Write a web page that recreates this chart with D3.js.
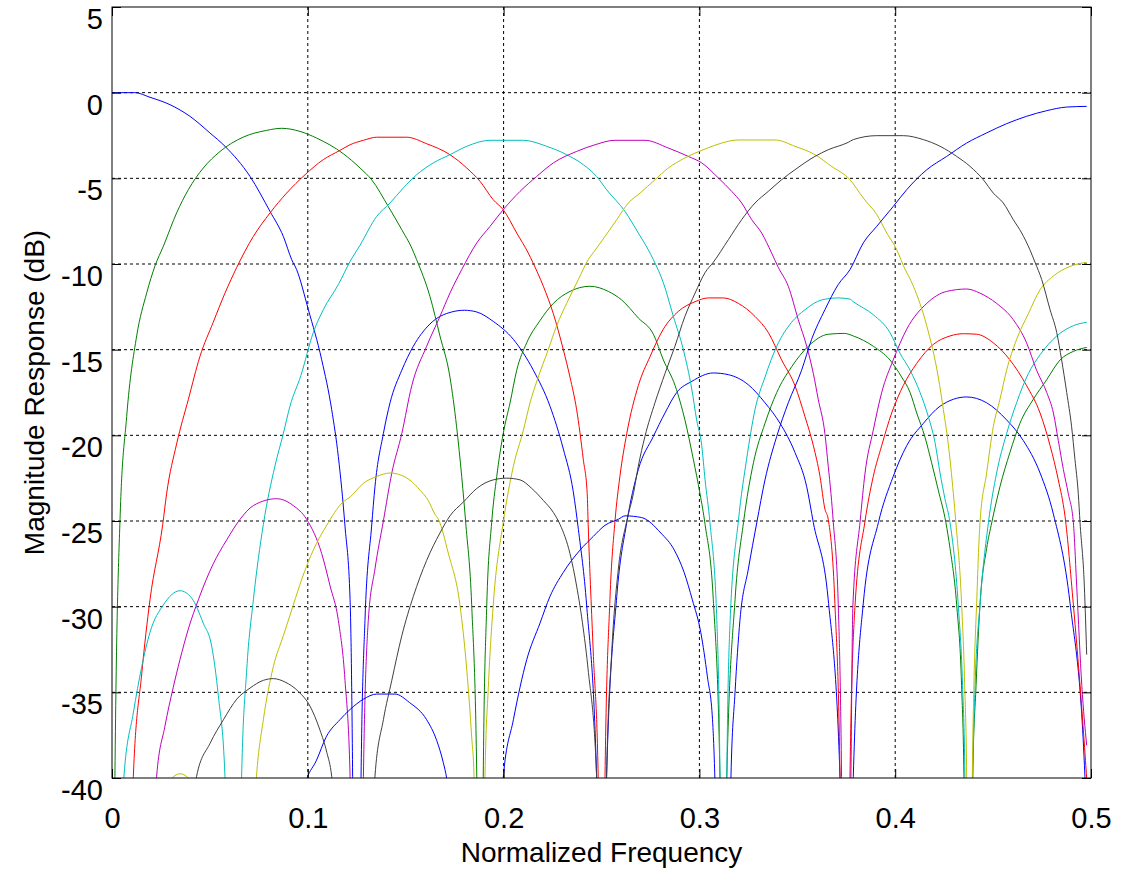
<!DOCTYPE html>
<html>
<head>
<meta charset="utf-8">
<script src="https://cdn.jsdelivr.net/npm/d3@7"></script>
<style>
body { margin: 0; background: #fff; }
svg { display: block; font-family: "Liberation Sans", Arial, Helvetica, sans-serif; }
.tickLabel { font-size: 29px; fill: #000; }
.axisTitle { font-size: 28px; fill: #000; }
</style>
</head>
<body>
<div id="chart"></div>
<script>
// [normalized frequency, magnitude dB], one array per filter
// values like -80 mark the nulls that fall off the bottom of the axes
var band0 = [[0, 0], [0.0117, 0], [0.0194, -0.27], [0.0296, -0.7], [0.0398, -1.38], [0.05, -2.35], [0.0577, -3.13], [0.0705, -4.89], [0.0807, -6.93], [0.0875, -8.39], [0.0918, -9.75], [0.0943, -10.33], [0.1003, -12.67], [0.1071, -15.59], [0.1122, -18.5], [0.1156, -21.25], [0.119, -25.3], [0.1216, -29.6], [0.1229, -39.9], [0.125, -80],
    [0.1272, -39.9], [0.1292, -30.8], [0.1326, -25.3], [0.1343, -23.0], [0.1386, -19.9], [0.142, -18.1], [0.148, -16.2], [0.1539, -14.8], [0.1624, -13.5], [0.1735, -12.8], [0.18, -12.7], [0.1863, -12.8], [0.1947, -13.35], [0.205, -14.4], [0.2152, -16.2], [0.2237, -18.3], [0.2305, -20.8], [0.2356, -23.3], [0.2382, -25.5], [0.2424, -29.9], [0.2475, -39.9], [0.25, -80],
    [0.2526, -39.9], [0.2578, -29.4], [0.2629, -25.1], [0.2688, -22.0], [0.2765, -20.06], [0.2824, -18.7], [0.2884, -17.5], [0.2961, -16.85], [0.3071, -16.36], [0.3148, -16.46], [0.325, -17.05], [0.3335, -18.1], [0.3412, -19.3], [0.3488, -21.0], [0.3548, -23.0], [0.3582, -25.1], [0.3658, -29.6], [0.3718, -39.9], [0.375, -80],
    [0.3786, -39.9], [0.3837, -29.8], [0.3914, -25.1], [0.399, -22.4], [0.4059, -20.6], [0.4144, -19.3], [0.4229, -18.3], [0.4365, -17.76], [0.4467, -18.1], [0.4569, -19.1], [0.4654, -20.3], [0.474, -22.2], [0.4808, -24.6], [0.4893, -29.8], [0.4969, -39.9], [0.498, -45]];

var band1 = [[0.0005, -60], [0.0015, -39.9], [0.0041, -24.9], [0.0075, -18.9], [0.0126, -14.2], [0.0177, -11.7], [0.022, -10.1], [0.0262, -8.97], [0.033, -7.02], [0.039, -5.66], [0.0466, -4.4], [0.0552, -3.43], [0.0671, -2.59], [0.079, -2.2], [0.0867, -2.08], [0.096, -2.26], [0.1045, -2.65], [0.1181, -3.56], [0.1267, -4.4], [0.1326, -5.08], [0.1411, -6.64], [0.148, -8.0], [0.1531, -9.07], [0.1556, -9.75], [0.1624, -11.9], [0.1675, -14.2], [0.1726, -16.6], [0.176, -19.5], [0.1786, -22.4], [0.1808, -25.3], [0.1837, -29.9], [0.1863, -39.9], [0.1875, -80],
    [0.1896, -39.9], [0.1914, -29.9], [0.1939, -25.1], [0.1965, -22.4], [0.1998, -19.9], [0.2033, -18.1], [0.2067, -16.2], [0.2118, -14.6], [0.2186, -13.3], [0.2254, -12.3], [0.2339, -11.6], [0.2441, -11.3], [0.2535, -11.6], [0.2603, -12.1], [0.2688, -13.15], [0.2765, -14.1], [0.2816, -15.6], [0.2876, -17.1], [0.2926, -19.1], [0.2969, -21.4], [0.3003, -23.4], [0.3029, -25.2], [0.3071, -29.6], [0.3105, -39.9], [0.3125, -80],
    [0.314, -39.9], [0.3182, -29.6], [0.3225, -25.1], [0.3276, -21.6], [0.3335, -19.3], [0.3395, -17.5], [0.3471, -16.0], [0.3556, -14.8], [0.3658, -14.1], [0.374, -14.05], [0.3786, -14.2], [0.3888, -14.8], [0.3973, -15.6], [0.4033, -16.6], [0.4076, -17.5], [0.411, -18.7], [0.4152, -20.1], [0.4186, -21.6], [0.422, -23.2], [0.4259, -25.1], [0.428, -26.6], [0.4314, -29.9], [0.4339, -34.6], [0.4351, -39.9], [0.4375, -80],
    [0.4396, -39.9], [0.4413, -34.6], [0.4433, -29.9], [0.4467, -26.6], [0.4493, -25.1], [0.4535, -23.0], [0.4586, -21.0], [0.4637, -19.3], [0.4705, -17.9], [0.4774, -16.75], [0.4842, -15.6], [0.491, -15.1], [0.4978, -14.87]];

var band2 = [[0.008, -60], [0.0109, -39.9], [0.0152, -33.9], [0.0194, -29.6], [0.0259, -25.2], [0.0279, -23.4], [0.033, -20.5], [0.039, -17.9], [0.0449, -15.4], [0.0517, -13.4], [0.0577, -11.7], [0.0637, -10.2], [0.0722, -8.39], [0.0807, -7.02], [0.0892, -5.86], [0.0986, -4.79], [0.1079, -3.91], [0.1164, -3.37], [0.1216, -3.04], [0.1284, -2.78], [0.1352, -2.6], [0.1505, -2.6], [0.1607, -2.98], [0.1726, -3.62], [0.1812, -4.4], [0.188, -5.18], [0.1947, -6.25], [0.1998, -6.83], [0.2067, -8.19], [0.2126, -9.36], [0.2149, -9.9], [0.2203, -11.3], [0.2254, -12.9], [0.2305, -15.0], [0.2339, -16.6], [0.2373, -18.5], [0.2407, -21.4], [0.2427, -23.4], [0.2432, -25.2], [0.2458, -32.7], [0.2483, -39.9], [0.25, -80],
    [0.2518, -39.9], [0.2543, -29.6], [0.2569, -25.0], [0.2594, -22.4], [0.2629, -19.9], [0.2688, -17.1], [0.2748, -15.4], [0.2816, -13.8], [0.2892, -12.77], [0.2978, -12.2], [0.3046, -11.98], [0.3122, -11.98], [0.3199, -12.3], [0.3284, -13.06], [0.3352, -14.0], [0.342, -15.6], [0.3488, -17.1], [0.3539, -18.9], [0.3582, -20.6], [0.3616, -22.4], [0.3641, -24.3], [0.3658, -24.9], [0.3692, -29.8], [0.3718, -39.9], [0.375, -80],
    [0.3769, -39.9], [0.3795, -29.9], [0.3846, -25.0], [0.3888, -22.4], [0.3931, -20.6], [0.3982, -18.7], [0.4041, -17.1], [0.411, -15.8], [0.4194, -14.7], [0.428, -14.2], [0.4348, -14.07], [0.4416, -14.1], [0.4501, -14.6], [0.4586, -15.6], [0.4671, -17.1], [0.474, -18.7], [0.4791, -20.6], [0.4833, -22.6], [0.4867, -24.7], [0.491, -29.9], [0.4944, -34.6], [0.4981, -40.5]];

var band3 = [[0.003, -60], [0.0061, -39.9], [0.0109, -36.2], [0.0152, -33.5], [0.0194, -31.5], [0.0262, -29.9], [0.0347, -29.07], [0.0407, -29.5], [0.0466, -30.96], [0.0509, -32.3], [0.0543, -35.2], [0.0577, -39.9], [0.0625, -80],
    [0.0662, -39.9], [0.0688, -33.7], [0.0722, -29.6], [0.0773, -25.2], [0.0832, -21.8], [0.0875, -19.9], [0.0909, -18.3], [0.0965, -16.5], [0.1028, -14.0], [0.1079, -12.67], [0.1156, -11.2], [0.1216, -9.85], [0.1267, -8.9], [0.1352, -7.22], [0.142, -6.44], [0.1488, -5.56], [0.1556, -4.79], [0.1641, -4.1], [0.1726, -3.62], [0.1812, -3.13], [0.1931, -2.78], [0.2101, -2.78], [0.222, -3.13], [0.2322, -3.62], [0.2407, -4.2], [0.2475, -4.89], [0.2526, -5.66], [0.262, -6.93], [0.2688, -8.19], [0.2739, -9.17], [0.2765, -9.75], [0.2816, -11.1], [0.2867, -13.06], [0.2918, -15.0], [0.2961, -17.3], [0.2986, -19.1], [0.3012, -20.6], [0.3029, -22.6], [0.3054, -25.1], [0.3089, -30.8], [0.3105, -39.9], [0.3125, -80],
    [0.314, -39.9], [0.3157, -30.8], [0.3199, -25.0], [0.3241, -21.4], [0.3284, -18.5], [0.3335, -16.6], [0.3395, -14.8], [0.3471, -13.4], [0.3539, -12.67], [0.3624, -12.1], [0.3709, -11.98], [0.3769, -12.05], [0.3786, -12.2], [0.3888, -12.96], [0.3973, -14.0], [0.4024, -15.2], [0.4076, -16.2], [0.4127, -17.5], [0.4169, -18.9], [0.4203, -20.4], [0.4229, -22.2], [0.4254, -23.7], [0.428, -25.1], [0.4322, -29.9], [0.4344, -34.6], [0.4356, -39.9], [0.4375, -80],
    [0.4396, -39.9], [0.4408, -34.6], [0.4433, -29.9], [0.4476, -25.1], [0.4518, -22.2], [0.4569, -19.9], [0.462, -18.1], [0.468, -16.4], [0.474, -15.3], [0.4825, -14.2], [0.491, -13.6], [0.4978, -13.4]];

var band4 = [[0.018, -60], [0.0228, -39.9], [0.027, -37.0], [0.0313, -34.7], [0.0347, -33.1], [0.039, -31.3], [0.0441, -29.6], [0.0517, -27.5], [0.0586, -26.1], [0.0654, -24.9], [0.0722, -24.1], [0.0841, -23.7], [0.0926, -24.1], [0.0994, -24.9], [0.1071, -26.9], [0.1114, -28.8], [0.1156, -30.8], [0.119, -34.3], [0.1216, -39.9], [0.125, -80],
    [0.1284, -39.9], [0.1309, -30.8], [0.1343, -27.8], [0.1386, -25.0], [0.1429, -22.2], [0.148, -19.9], [0.1531, -17.1], [0.1607, -14.8], [0.1675, -13.06], [0.1726, -11.7], [0.1786, -10.33], [0.1863, -8.77], [0.1931, -7.8], [0.1998, -6.83], [0.2084, -5.76], [0.2169, -4.89], [0.2254, -4.1], [0.2373, -3.43], [0.2467, -3.04], [0.2569, -2.78], [0.2722, -2.78], [0.2841, -3.23], [0.2943, -3.72], [0.3012, -4.1], [0.3097, -4.98], [0.3165, -5.76], [0.3216, -6.44], [0.3267, -7.41], [0.3318, -8.19], [0.3369, -9.36], [0.3403, -10.2], [0.3454, -11.3], [0.3505, -13.25], [0.3548, -14.8], [0.3582, -16.4], [0.3607, -17.9], [0.3641, -19.9], [0.3658, -21.8], [0.3672, -23.4], [0.3684, -25.1], [0.3709, -29.8], [0.3726, -39.9], [0.375, -80],
    [0.3774, -39.9], [0.3784, -29.9], [0.3821, -25.0], [0.3846, -22.2], [0.3888, -19.7], [0.3931, -17.5], [0.399, -15.6], [0.4059, -13.8], [0.4161, -12.3], [0.4263, -11.6], [0.4365, -11.46], [0.4433, -11.7], [0.4518, -12.3], [0.4603, -13.25], [0.4671, -14.6], [0.4722, -16.2], [0.4774, -17.5], [0.4808, -18.7], [0.4833, -20.3], [0.4859, -22.0], [0.4884, -23.4], [0.491, -25.1], [0.4927, -28.8], [0.4953, -34.6], [0.4978, -38.1]];

var band5 = [[0.003, -80], [0.015, -43], [0.0296, -40.1], [0.0347, -39.75], [0.0398, -40.1], [0.05, -43], [0.0625, -80],
    [0.0738, -39.9], [0.0773, -36.6], [0.0824, -33.5], [0.0875, -31.7], [0.0926, -29.9], [0.0969, -28.4], [0.1028, -26.7], [0.1094, -25.3], [0.1179, -23.9], [0.1216, -23.6], [0.1284, -22.8], [0.1352, -22.4], [0.142, -22.2], [0.1471, -22.3], [0.1531, -22.7], [0.1573, -23.2], [0.1615, -23.8], [0.1649, -24.6], [0.1667, -24.9], [0.1718, -26.9], [0.1777, -29.9], [0.1812, -33.7], [0.1837, -37.6], [0.1849, -39.9], [0.1875, -80],
    [0.1905, -39.9], [0.1922, -34.7], [0.1947, -29.9], [0.1998, -25.1], [0.205, -21.8], [0.2101, -19.7], [0.2135, -18.1], [0.2177, -16.6], [0.2228, -15.0], [0.2271, -13.6], [0.2322, -12.3], [0.2382, -10.9], [0.2432, -9.75], [0.2467, -9.2], [0.2518, -8.39], [0.2578, -7.41], [0.2637, -6.44], [0.2697, -5.86], [0.2773, -5.08], [0.2841, -4.4], [0.2926, -3.81], [0.3029, -3.29], [0.3114, -2.94], [0.3199, -2.76], [0.3386, -2.76], [0.3488, -3.13], [0.359, -3.62], [0.3675, -4.3], [0.3769, -5.08], [0.3837, -6.15], [0.3906, -7.12], [0.3957, -8.19], [0.4008, -9.17], [0.4042, -10.1], [0.4093, -11.3], [0.4161, -13.6], [0.422, -16.6], [0.4246, -18.5], [0.4271, -20.5], [0.4297, -23.4], [0.431, -25.1], [0.4339, -29.8], [0.4356, -35.0], [0.4365, -39.9], [0.4375, -80],
    [0.4394, -39.9], [0.4402, -34.6], [0.4416, -29.8], [0.4433, -25.1], [0.4467, -22.2], [0.4501, -19.5], [0.4535, -17.9], [0.4569, -16.2], [0.462, -14.4], [0.468, -12.9], [0.474, -11.5], [0.4808, -10.7], [0.4893, -10.14], [0.4978, -9.9]];

var band6 = [[0.035, -60], [0.0432, -39.9], [0.0501, -37.97], [0.0569, -36.6], [0.0637, -35.4], [0.0705, -34.75], [0.0773, -34.3], [0.0824, -34.2], [0.0884, -34.4], [0.0952, -34.95], [0.1011, -35.8], [0.1062, -37.2], [0.1097, -38.5], [0.1122, -39.9], [0.125, -80],
    [0.1343, -39.9], [0.1386, -36.6], [0.1429, -34.3], [0.148, -31.7], [0.1539, -29.4], [0.1607, -27.3], [0.1675, -25.7], [0.1726, -24.7], [0.1794, -23.9], [0.1863, -23.1], [0.1947, -22.6], [0.2016, -22.5], [0.2084, -22.6], [0.2144, -23.1], [0.2203, -23.8], [0.2254, -24.5], [0.2288, -25.2], [0.2339, -26.9], [0.2373, -28.8], [0.2407, -31.3], [0.2432, -33.7], [0.2475, -39.9], [0.25, -80],
    [0.2526, -39.9], [0.2552, -32.7], [0.2586, -27.8], [0.2629, -25.0], [0.2663, -23.4], [0.2688, -21.8], [0.2722, -20.06], [0.2773, -18.1], [0.2824, -16.4], [0.2875, -14.8], [0.2926, -13.06], [0.2978, -11.7], [0.3029, -10.5], [0.3071, -9.9], [0.3148, -8.58], [0.3216, -7.41], [0.3284, -6.44], [0.3352, -5.76], [0.342, -5.08], [0.3488, -4.5], [0.359, -3.72], [0.3658, -3.33], [0.376, -2.9], [0.3786, -2.74], [0.3906, -2.51], [0.4042, -2.51], [0.4144, -2.74], [0.4229, -3.13], [0.4314, -3.72], [0.4382, -4.3], [0.445, -5.08], [0.4501, -5.86], [0.4552, -6.44], [0.4603, -7.41], [0.4646, -8.19], [0.4688, -9.17], [0.4714, -9.9], [0.4748, -10.9], [0.4791, -12.67], [0.4825, -14.0], [0.485, -15.6], [0.4876, -17.5], [0.4901, -19.5], [0.4918, -21.4], [0.4935, -23.4], [0.4944, -25.1], [0.4966, -28.8], [0.4978, -32.8]];

var band7 = [[0.0625, -80], [0.0996, -40], [0.1043, -39.0], [0.1094, -37.6], [0.1164, -36.6], [0.1216, -36.0], [0.1284, -35.4], [0.1352, -35.1], [0.1445, -35.1], [0.152, -35.6], [0.1607, -36.6], [0.1658, -37.8], [0.1692, -39.1], [0.1709, -40], [0.1875, -80],
    [0.1998, -40], [0.205, -36.6], [0.2118, -33.1], [0.2186, -30.96], [0.2237, -29.4], [0.2305, -28.0], [0.239, -26.7], [0.2458, -25.9], [0.2518, -25.25], [0.2586, -24.9], [0.262, -24.7], [0.2705, -24.8], [0.2803, -25.7], [0.2872, -26.7], [0.2922, -28.0], [0.2964, -29.6], [0.3007, -31.5], [0.3041, -34.1], [0.3067, -36.6], [0.3079, -40], [0.3125, -80],
    [0.3161, -40], [0.3182, -35.0], [0.3207, -30.8], [0.325, -27.8], [0.3293, -25.1], [0.3335, -22.6], [0.3395, -20.06], [0.3454, -18.1], [0.3522, -16.2], [0.3573, -14.4], [0.3641, -12.67], [0.3709, -11.2], [0.3769, -10.33], [0.3837, -8.77], [0.3906, -7.8], [0.399, -6.64], [0.4059, -5.66], [0.4161, -4.5], [0.4263, -3.72], [0.4365, -2.94], [0.4467, -2.35], [0.4569, -1.81], [0.4671, -1.38], [0.4774, -1.05], [0.4876, -0.84], [0.4978, -0.8]];

var bands = [band0, band1, band2, band3, band4, band5, band6, band7];
var bandColors = ["#0000ff", "#008000", "#ff0000", "#00bfbf", "#bf00bf", "#bfbf00", "#404040", "#0000ff"];

var xTicks = [0, 0.1, 0.2, 0.3, 0.4, 0.5];
var xTickLabels = ["0", "0.1", "0.2", "0.3", "0.4", "0.5"];
var yTicks = [5, 0, -5, -10, -15, -20, -25, -30, -35, -40];

var margin = {top: 7, right: 39, bottom: 92, left: 112};
var width = 1130 - margin.left - margin.right;
var height = 870 - margin.top - margin.bottom;

var svg = d3.select("#chart")
    .append("svg")
    .attr("width", 1130)
    .attr("height", 870);

var plot = svg.append("g")
    .attr("transform", "translate(" + margin.left + "," + margin.top + ")");

var xScale = d3.scaleLinear()
    .domain([0, 0.5])
    .range([0, width]);

var yScale = d3.scaleLinear()
    .domain([-40, 5])
    .range([height, 0]);

plot.append("clipPath")
    .attr("id", "plotClip")
    .append("rect")
    .attr("width", width)
    .attr("height", height);

// dotted grid, skip the lines that sit on the frame
plot.selectAll(".xGrid")
    .data(xTicks.slice(1, -1))
    .enter()
    .append("line")
    .attr("class", "xGrid")
    .attr("x1", function(d) { return xScale(d); })
    .attr("x2", function(d) { return xScale(d); })
    .attr("y1", 0)
    .attr("y2", height)
    .attr("stroke", "#000")
    .attr("stroke-width", 1)
    .attr("stroke-dasharray", "3,3");

plot.selectAll(".yGrid")
    .data(yTicks.slice(1, -1))
    .enter()
    .append("line")
    .attr("class", "yGrid")
    .attr("x1", 0)
    .attr("x2", width)
    .attr("y1", function(d) { return yScale(d); })
    .attr("y2", function(d) { return yScale(d); })
    .attr("stroke", "#000")
    .attr("stroke-width", 1)
    .attr("stroke-dasharray", "3,3");

var line = d3.line()
    .x(function(d) { return xScale(d[0]); })
    .y(function(d) { return yScale(d[1]); })
    .curve(d3.curveMonotoneX);

plot.append("g")
    .attr("clip-path", "url(#plotClip)")
    .selectAll(".band")
    .data(bands)
    .enter()
    .append("path")
    .attr("class", "band")
    .attr("d", line)
    .attr("fill", "none")
    .attr("stroke", function(d, i) { return bandColors[i]; })
    .attr("stroke-width", 1);

// ticks point inwards on all four sides, like matlab
var xAxis = plot.append("g")
    .attr("transform", "translate(0," + height + ")")
    .call(d3.axisBottom(xScale).tickValues(xTicks).tickSize(-9).tickPadding(29)
        .tickFormat(function(d, i) { return xTickLabels[i]; }));

// plain hyphen for the minus sign, as in the original
var yAxis = plot.append("g")
    .call(d3.axisLeft(yScale).tickValues(yTicks).tickSize(-9).tickPadding(9)
        .tickFormat(function(d) { return String(d); }));

plot.append("g")
    .call(d3.axisTop(xScale).tickValues(xTicks).tickSize(-9).tickFormat(""));

plot.append("g")
    .attr("transform", "translate(" + width + ",0)")
    .call(d3.axisRight(yScale).tickValues(yTicks).tickSize(-9).tickFormat(""));

plot.selectAll(".domain").remove();
plot.selectAll(".tick line").attr("stroke", "#000");

xAxis.selectAll("text").attr("class", "tickLabel").attr("font-size", null).attr("font-family", null);
yAxis.selectAll("text").attr("class", "tickLabel").attr("font-size", null).attr("font-family", null)
    .attr("dy", "0.74em");

plot.append("rect")
    .attr("width", width)
    .attr("height", height)
    .attr("fill", "none")
    .attr("stroke", "#000")
    .attr("stroke-width", 1);

svg.append("text")
    .attr("class", "axisTitle")
    .attr("x", margin.left + width / 2)
    .attr("y", 862)
    .attr("text-anchor", "middle")
    .text("Normalized Frequency");

svg.append("text")
    .attr("class", "axisTitle")
    .attr("transform", "translate(44," + (margin.top + height / 2) + ") rotate(-90)")
    .attr("text-anchor", "middle")
    .text("Magnitude Response (dB)");
</script>
</body>
</html>
